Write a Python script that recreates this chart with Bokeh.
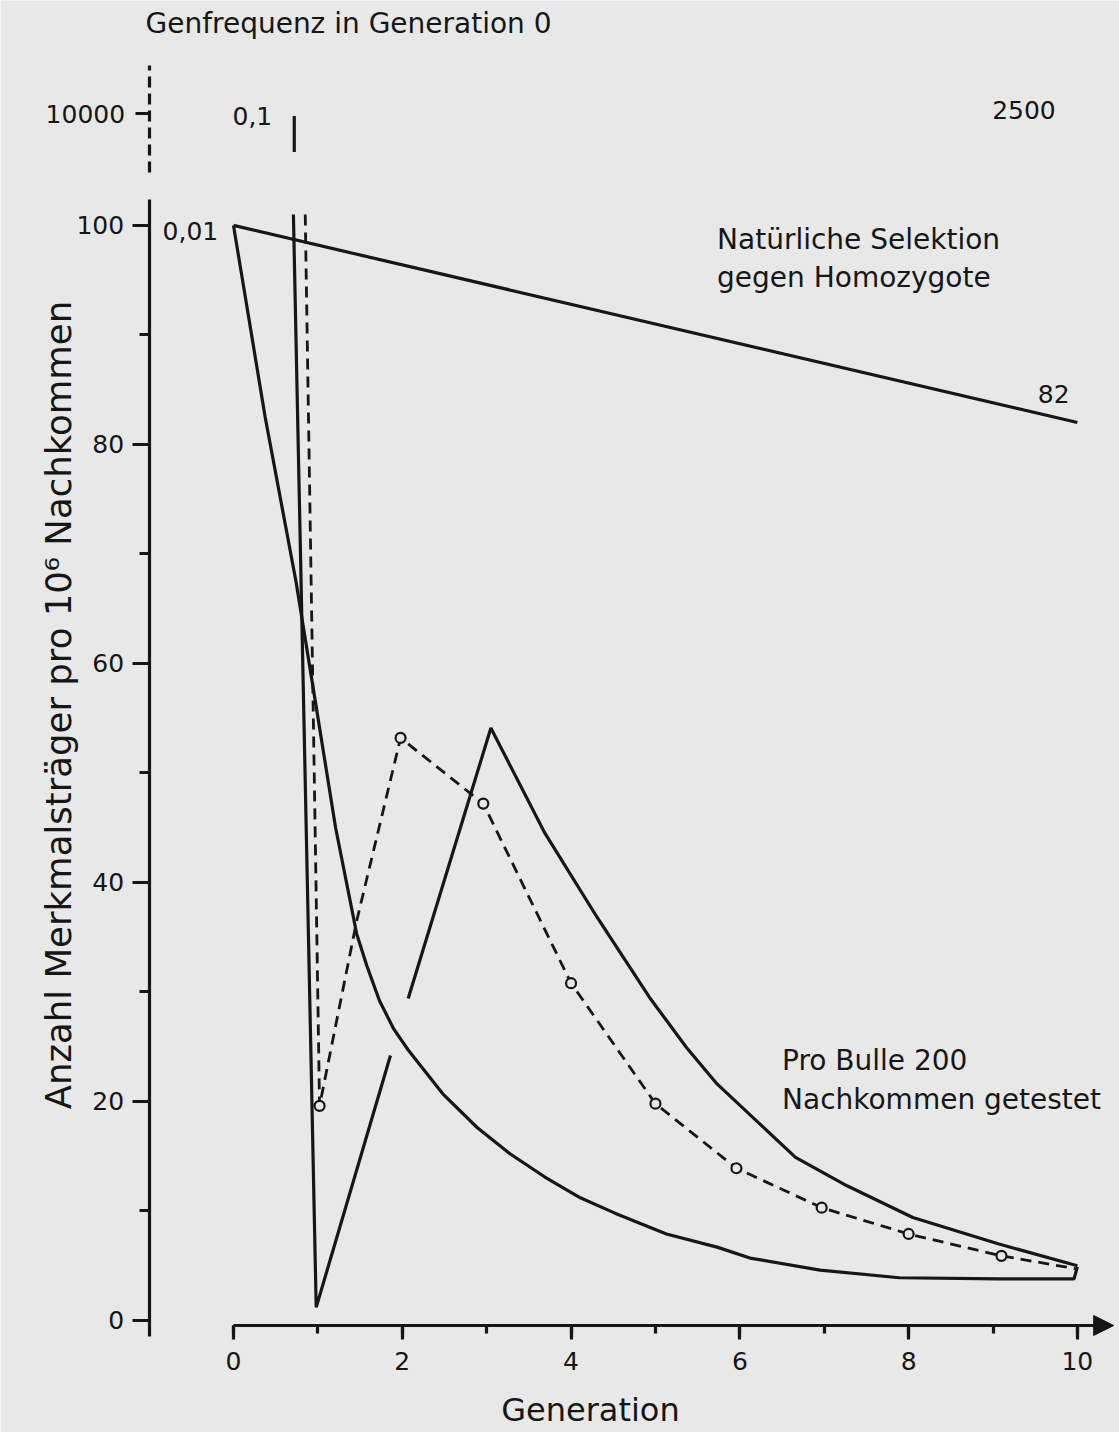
import math
from bokeh.plotting import figure
from bokeh.models import (LinearAxis, SingleIntervalTicker, FixedTicker, Range1d,
                          Arrow, NormalHead, CustomJSTickFormatter)
from bokeh.core.properties import value
from bokeh.embed import file_html
from bokeh.resources import INLINE

nan = float("nan")

# ---------------- data (generation, carriers per 10^6 offspring) ----------------
# natural selection against homozygotes, start frequency 0.01
nat_gen = [0, 10]
nat_val = [100, 82]

# progeny testing (200 offspring per bull), start frequency 0.01
low_gen = [0, 0.375, 0.74, 0.96, 1.21, 1.46, 1.58, 1.73, 1.9, 2.07, 2.48, 2.89, 3.28,
           3.69, 4.11, 4.52, 5.13, 5.73, 6.12, 6.95, 7.89, 9.06, 9.96, 10.0]
low_val = [100, 82.5, 67.5, 57, 45, 35.3, 32.4, 29.2, 26.6, 24.7, 20.7, 17.6, 15.2,
           13.1, 11.2, 9.8, 7.9, 6.7, 5.7, 4.6, 3.9, 3.8, 3.8, 4.9]

# start frequency 0.1 (10000 per 10^6), solid curve (axis break above 100)
sol_gen = [0.72, 0.72, nan, 0.71, 0.98, 1.86, nan, 2.07, 3.05, 3.69, 4.31, 4.93,
           5.37, 5.73, 6.66, 7.27, 8.05, 9.06, 10.0]
sol_val = [110.0, 106.7, nan, 101.0, 1.2, 24.2, nan, 29.4, 54.1, 44.5, 36.8, 29.5,
           24.9, 21.6, 14.9, 12.3, 9.4, 7.0, 5.0]

# start frequency 0.1, dashed curve with open circles
dash_gen = [0.85, 1.02, 1.46, 1.98, 2.96, 4.0, 5.0, 5.96, 6.97, 8.0, 9.1, 10.0]
dash_val = [101.0, 19.6, 36.5, 53.2, 47.2, 30.8, 19.8, 13.9, 10.3, 7.9, 5.9, 4.7]
mark_gen = [1.02, 1.98, 2.96, 4.0, 5.0, 5.96, 6.97, 8.0, 9.1]
mark_val = [19.6, 53.2, 47.2, 30.8, 19.8, 13.9, 10.3, 7.9, 5.9]

# upper (broken) axis tick: value 10000 drawn above the break
top_tick_pos = [110.2]
top_tick_label = "10000"

TITLE = "Genfrequenz in Generation 0"
YLABEL = "Anzahl Merkmalsträger pro 10\u2076 Nachkommen"
XLABEL = "Generation"

# ---------------- styling ----------------
BG = "#e8e8e8"
INK = "#161616"
FONT = "DejaVu Sans"
LW = 3.2

p = figure(width=1119, height=1432, output_backend="svg", toolbar_location=None,
           x_range=Range1d(-2.761, 10.499), y_range=Range1d(-10.23, 120.54),
           x_axis_location=None, y_axis_location=None, min_border=0,
           background_fill_color=BG, border_fill_color=BG, outline_line_color=None)
p.grid.visible = False

def style_axis(ax, size="25px"):
    ax.axis_line_color = INK
    ax.axis_line_width = LW
    ax.major_tick_line_color = INK
    ax.major_tick_line_width = LW
    ax.minor_tick_line_color = INK
    ax.minor_tick_line_width = LW
    ax.major_tick_in = 0
    ax.minor_tick_in = 0
    ax.major_label_text_font = FONT
    ax.major_label_text_font_size = size
    ax.major_label_text_color = INK

# x axis
xaxis = LinearAxis(ticker=SingleIntervalTicker(interval=2, num_minor_ticks=2),
                   fixed_location=-0.46, bounds=(0, 10.3))
style_axis(xaxis)
xaxis.major_tick_out = 14
xaxis.minor_tick_out = 8
xaxis.major_label_standoff = 12
p.add_layout(xaxis, "below")

# main y axis
yaxis = LinearAxis(ticker=SingleIntervalTicker(interval=20, num_minor_ticks=2),
                   fixed_location=-1.0, bounds=(-1.5, 102.4))
style_axis(yaxis)
yaxis.major_tick_out = 17
yaxis.minor_tick_out = 10
yaxis.major_label_standoff = 8
p.add_layout(yaxis, "left")

# upper dashed y axis segment (axis break) with 10000 tick
yaxis2 = LinearAxis(ticker=FixedTicker(ticks=top_tick_pos, minor_ticks=[]),
                    fixed_location=-1.0, bounds=(104.8, 114.6),
                    formatter=CustomJSTickFormatter(code="return '%s'" % top_tick_label))
style_axis(yaxis2)
yaxis2.axis_line_dash = "11 6"
yaxis2.major_tick_out = 14
yaxis2.major_label_standoff = 10
p.add_layout(yaxis2, "left")

# arrow head at end of x axis
p.add_layout(Arrow(end=NormalHead(size=20, line_color=INK, fill_color=INK, line_width=1),
                   x_start=10.2, y_start=-0.46, x_end=10.43, y_end=-0.46,
                   line_width=LW, line_color=INK))

# curves
p.line(nat_gen, nat_val, line_width=LW, line_color=INK)
p.line(low_gen, low_val, line_width=LW, line_color=INK)
p.line(sol_gen, sol_val, line_width=LW, line_color=INK)
p.line(dash_gen, dash_val, line_width=2.8, line_color=INK, line_dash="11 7")
p.scatter(mark_gen, mark_val, marker="circle", size=10, fill_color=BG,
          line_color=INK, line_width=2.2)

# texts
p.text(x=[-1.043], y=[118.4], text=[TITLE], text_font=value(FONT),
       text_font_size="28px", text_align="left", text_baseline="middle", text_color=INK)

p.text(x=[-0.012, -0.84, 8.99, 9.53], y=[110.0, 99.5, 110.5, 84.6],
       text=["0,1", "0,01", "2500", "82"], text_font=value(FONT),
       text_font_size="25px", text_align="left", text_baseline="middle", text_color=INK)

p.text(x=[5.73, 5.73, 6.50, 6.50], y=[98.7, 95.25, 23.7, 20.2],
       text=["Natürliche Selektion", "gegen Homozygote", "Pro Bulle 200",
             "Nachkommen getestet"],
       text_font=value(FONT), text_font_size="28px", text_align="left",
       text_baseline="middle", text_color=INK)

p.text(x=[-2.07], y=[56.2], text=[YLABEL], angle=math.pi / 2, text_font=value(FONT),
       text_font_size="35.5px", text_align="center", text_baseline="middle", text_color=INK)

p.text(x=[4.23], y=[-8.2], text=[XLABEL], text_font=value(FONT),
       text_font_size="32px", text_align="center", text_baseline="middle", text_color=INK)

open("out.html", "w").write(file_html(p, INLINE))
